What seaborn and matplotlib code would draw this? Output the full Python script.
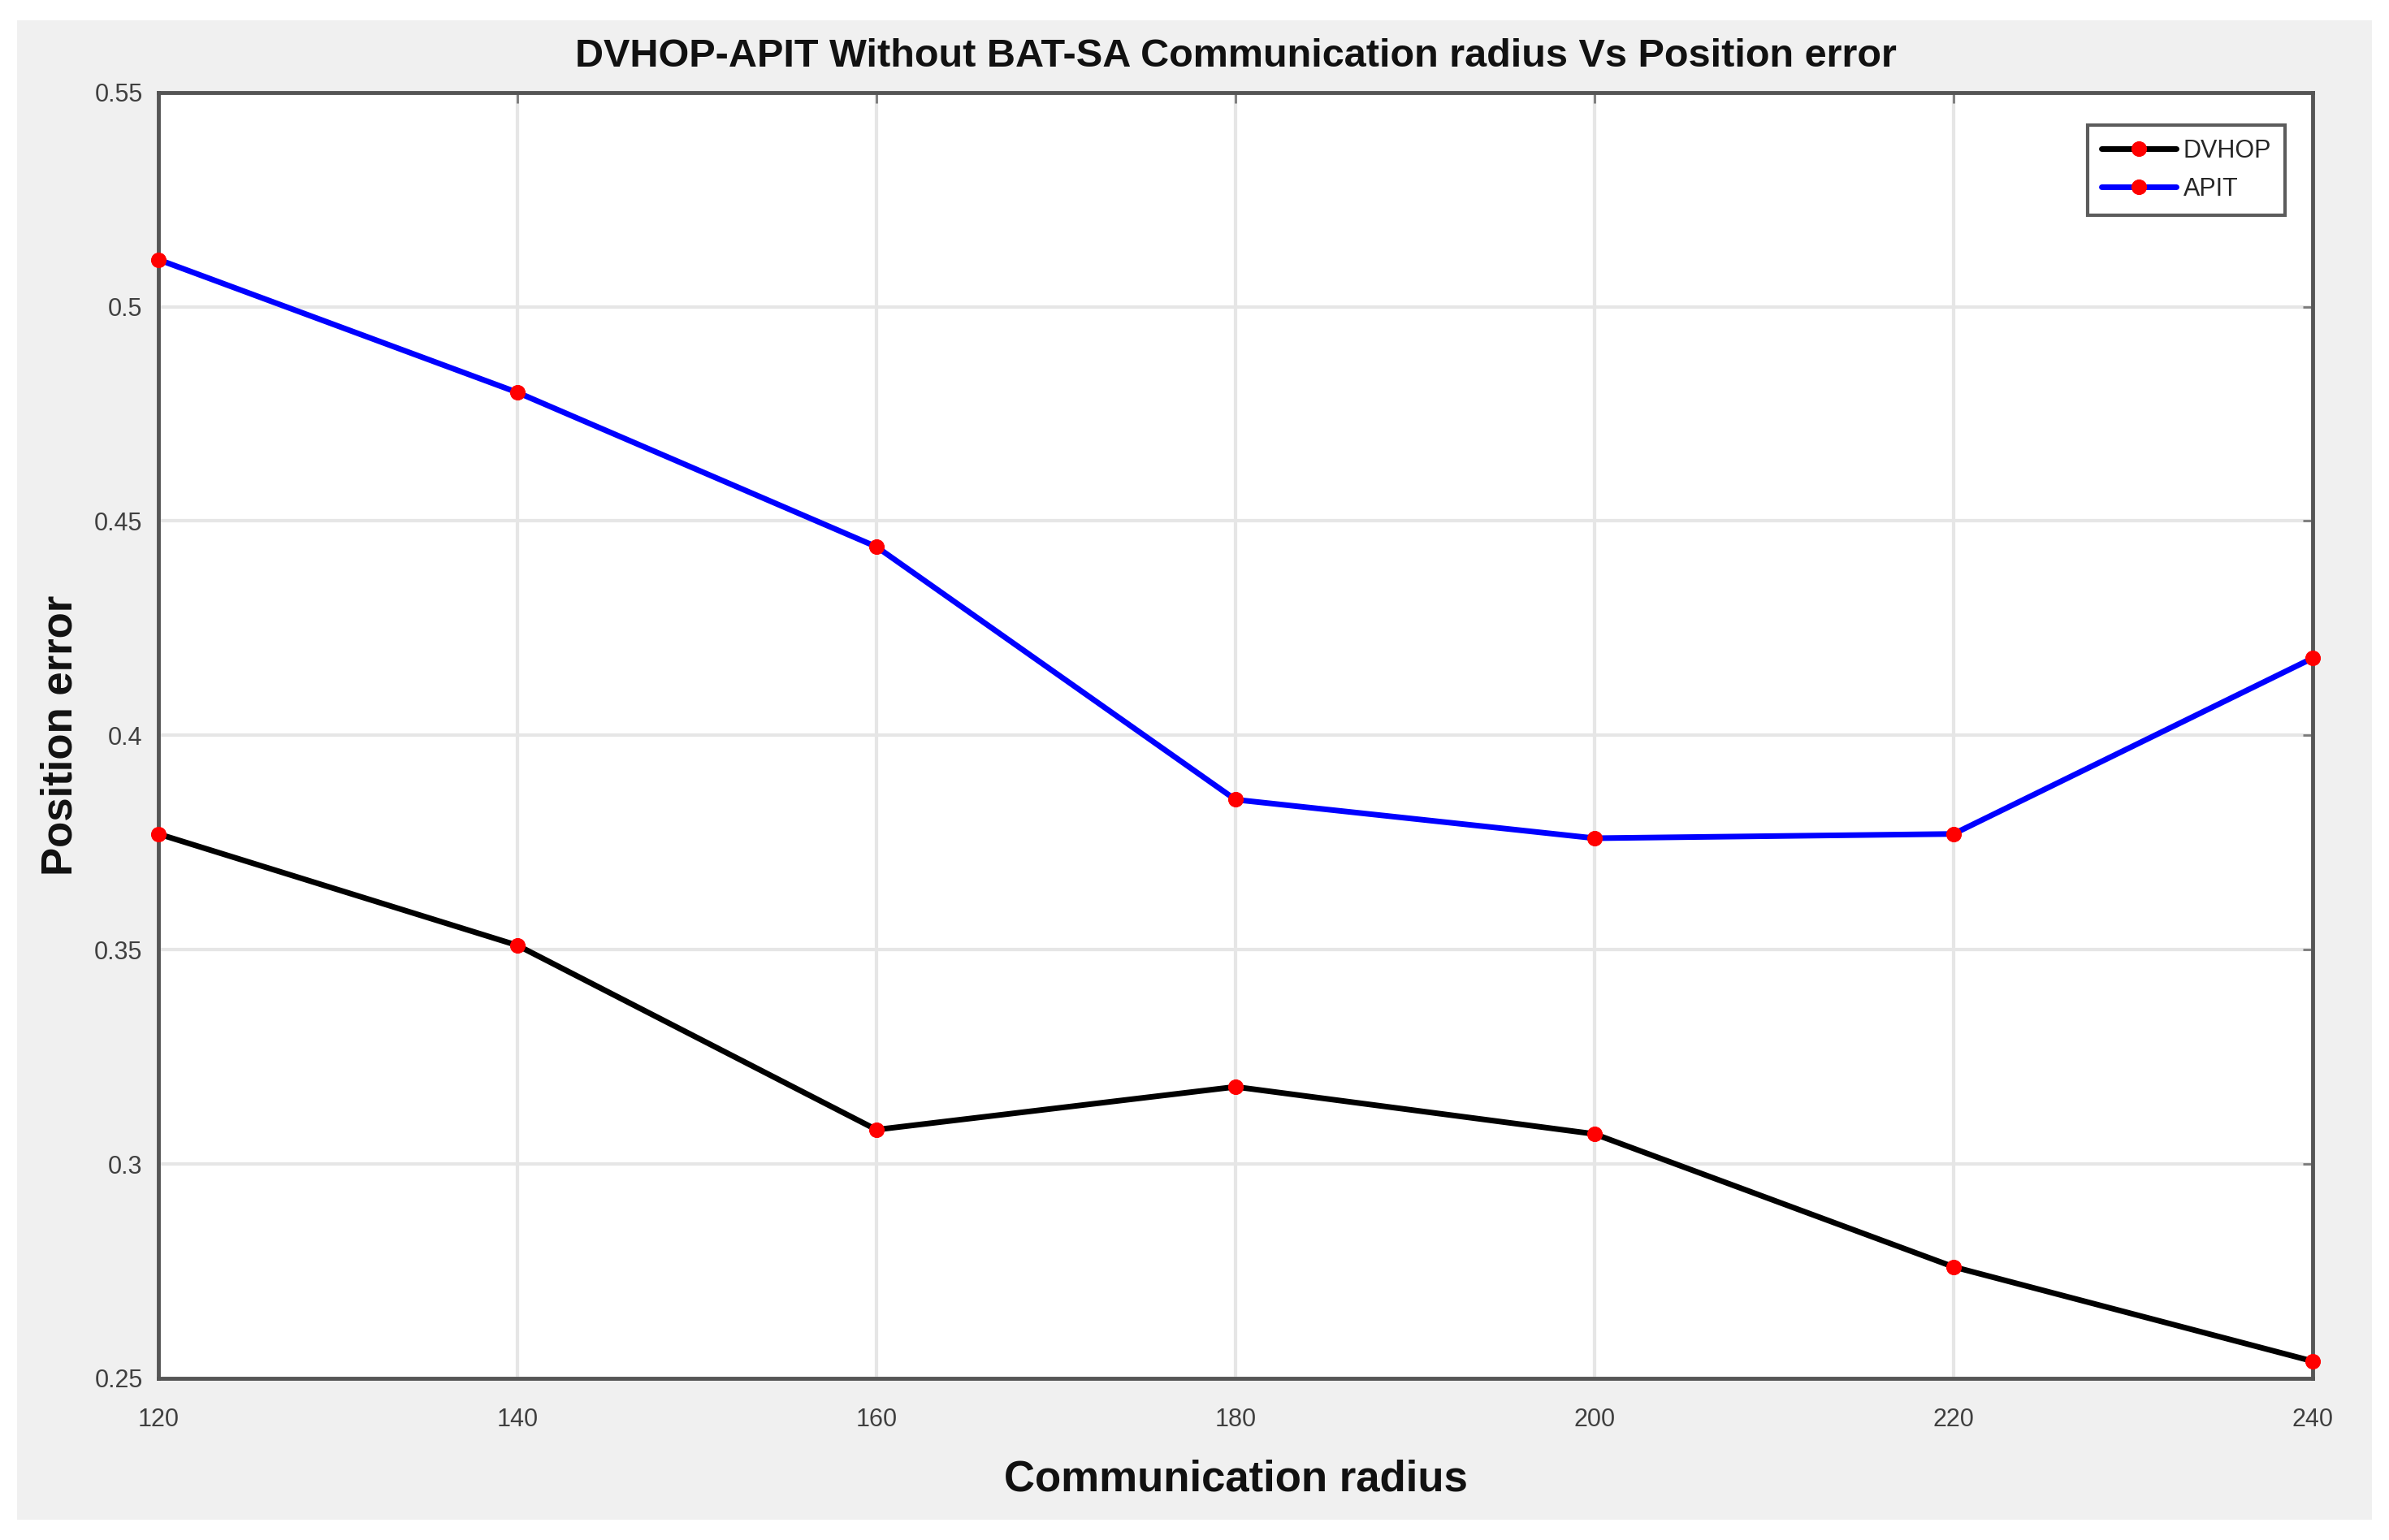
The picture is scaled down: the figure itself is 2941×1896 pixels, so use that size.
import pandas as pd
import numpy as np
import matplotlib.pyplot as plt
import seaborn as sns

# Data
radius = [120, 140, 160, 180, 200, 220, 240]
dvhop_error = [0.377, 0.351, 0.308, 0.318, 0.307, 0.276, 0.254]
apit_error = [0.511, 0.480, 0.444, 0.385, 0.376, 0.377, 0.418]
y_ticks = [0.25, 0.3, 0.35, 0.4, 0.45, 0.5, 0.55]
y_tick_labels = ['0.25', '0.3', '0.35', '0.4', '0.45', '0.5', '0.55']

df = pd.DataFrame({
    'radius': radius * 2,
    'error': dvhop_error + apit_error,
    'method': ['DVHOP'] * len(radius) + ['APIT'] * len(radius),
})

sns.set_style('white')
plt.rcParams['font.family'] = ['Liberation Sans Narrow', 'Liberation Sans', 'DejaVu Sans']

fig = plt.figure(figsize=(29.41, 18.96), dpi=100)
fig.patch.set_facecolor('white')
# gray MATLAB-like figure panel
fig.patches.append(plt.Rectangle((0.007, 0.013), 0.986, 0.974, transform=fig.transFigure,
                                 facecolor='#f0f0f0', edgecolor='none', zorder=-10))

ax = fig.add_axes([0.0663, 0.105, 0.9017, 0.835])
ax.set_facecolor('white')

colors = {'DVHOP': 'black', 'APIT': 'blue'}
for name in ['DVHOP', 'APIT']:
    sub = df[df['method'] == name]
    sns.lineplot(data=sub, x='radius', y='error', ax=ax, color=colors[name], label=name,
                 linewidth=5, marker='o', markersize=13, markerfacecolor='red',
                 markeredgecolor='red', clip_on=False, zorder=5)

ax.set_xlim(120, 240)
ax.set_ylim(0.25, 0.55)
ax.set_xticks(radius)
ax.set_xticklabels([str(r) for r in radius])
ax.set_yticks(y_ticks)
ax.set_yticklabels(y_tick_labels)
ax.grid(True, color='#e6e6e6', linewidth=3)
ax.tick_params(direction='in', length=9, width=2, colors='#7a7a7a', labelsize=22,
               top=True, right=True, pad=14)
ax.tick_params(axis='x', pad=26)
for lab in ax.get_xticklabels() + ax.get_yticklabels():
    lab.set_color('#404040')
for sp in ax.spines.values():
    sp.set_color('#555555')
    sp.set_linewidth(3.5)

ax.set_title('DVHOP-APIT Without BAT-SA Communication radius Vs Position error',
             fontsize=35, fontweight='bold', family=['Liberation Sans', 'DejaVu Sans'],
             color='#111111', pad=23)
ax.set_xlabel('Communication radius', fontsize=38, fontweight='bold',
              family=['Liberation Sans', 'DejaVu Sans'], color='#111111', labelpad=24)
ax.set_ylabel('Position error', fontsize=38, fontweight='bold',
              family=['Liberation Sans', 'DejaVu Sans'], color='#111111', labelpad=12)

leg = ax.legend(loc='upper right', bbox_to_anchor=(0.993, 0.984), fontsize=22,
                frameon=True, fancybox=False, handlelength=3.0, borderpad=0.55,
                labelspacing=0.55, handletextpad=0.3)
leg.get_frame().set_edgecolor('#333333')
leg.get_frame().set_linewidth(3)

fig.savefig('out.png', dpi=100)
